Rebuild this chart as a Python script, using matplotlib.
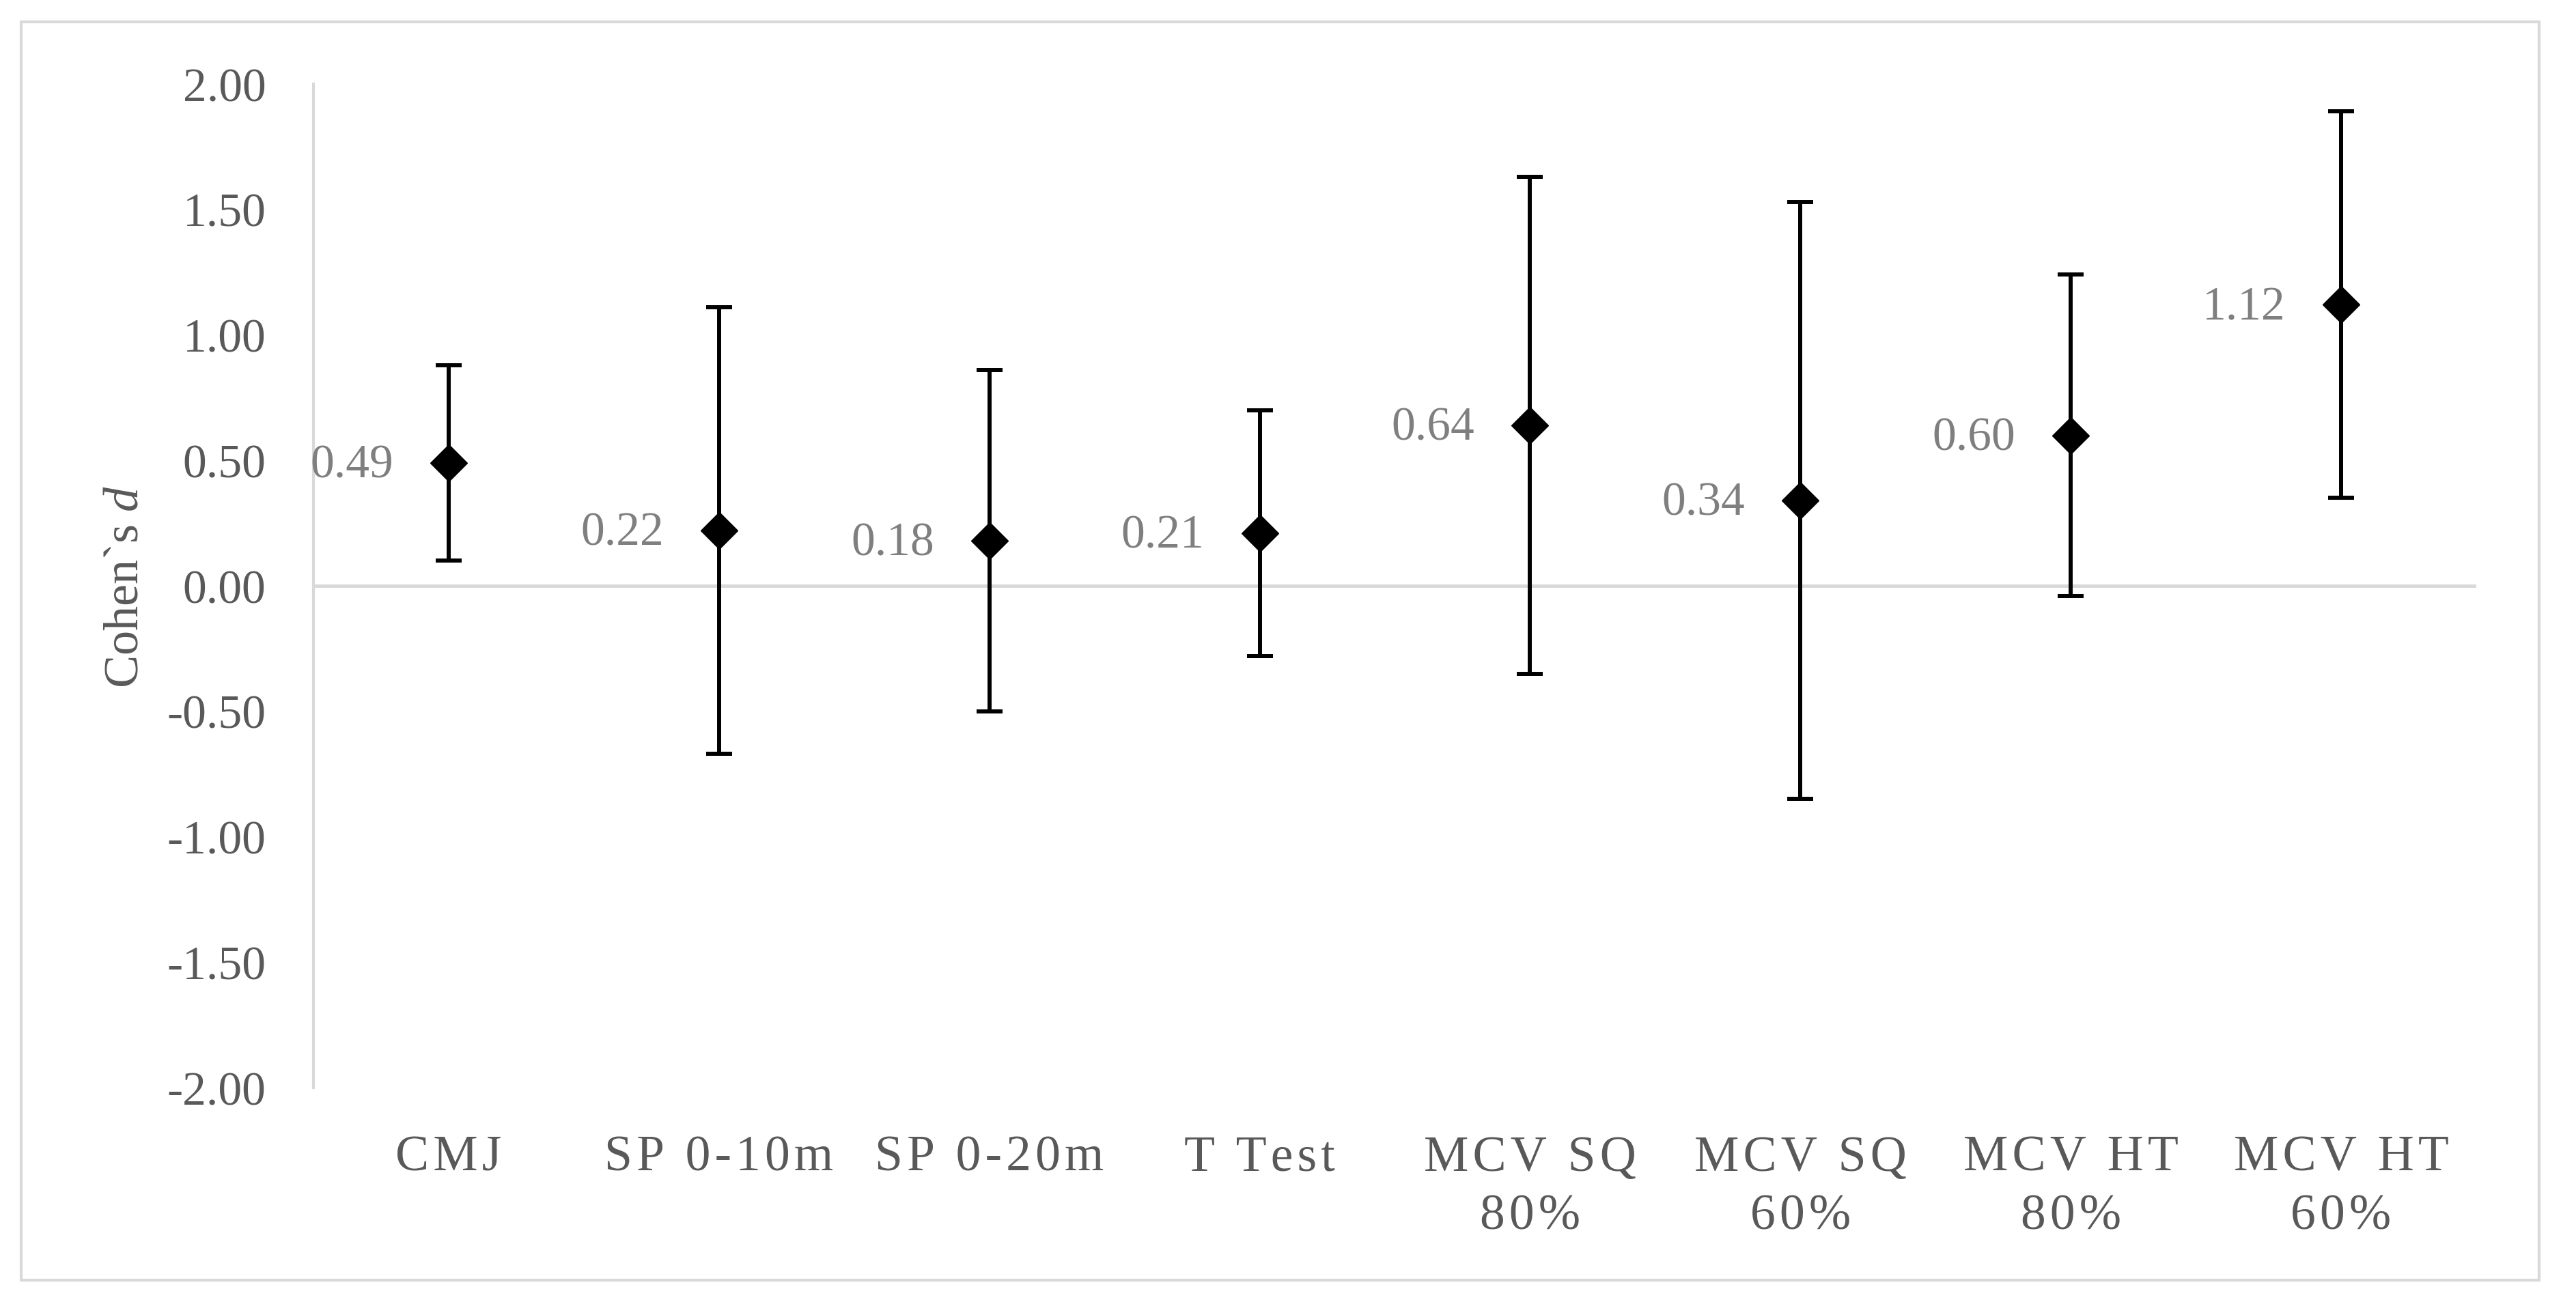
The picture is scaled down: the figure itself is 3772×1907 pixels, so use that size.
import matplotlib
matplotlib.use("Agg")
import matplotlib.pyplot as plt
import numpy as np
from matplotlib.patches import Rectangle

categories = ["CMJ", "SP 0-10m", "SP 0-20m", "T Test",
              "MCV SQ\n80%", "MCV SQ\n60%", "MCV HT\n80%", "MCV HT\n60%"]
d_values = [0.49, 0.22, 0.18, 0.21, 0.64, 0.34, 0.60, 1.12]
ci_low = [0.10, -0.67, -0.50, -0.28, -0.35, -0.85, -0.04, 0.35]
ci_high = [0.88, 1.11, 0.86, 0.70, 1.63, 1.53, 1.24, 1.89]
y_ticks = [-2.0, -1.5, -1.0, -0.5, 0.0, 0.5, 1.0, 1.5, 2.0]

plt.rcParams['font.family'] = ['Liberation Serif', 'DejaVu Serif']
plt.rcParams['mathtext.fontset'] = 'custom'
plt.rcParams['mathtext.rm'] = 'Liberation Serif'
plt.rcParams['mathtext.it'] = 'Liberation Serif:italic'

W, H = 3773, 1908
fig = plt.figure(figsize=(W / 100, H / 100), dpi=100)
ax = fig.add_axes([459 / W, 1 - 1594 / H, (3626 - 459) / W, (1594 - 124) / H])

x = np.arange(len(categories))
vals = np.array(d_values)
yerr = [vals - np.array(ci_low), np.array(ci_high) - vals]
ax.errorbar(x, vals, yerr=yerr, fmt='D', color='black', ms=27.5,
            elinewidth=4.3, capsize=13.5, capthick=4.3, zorder=3)

for xi, v in zip(x, d_values):
    ax.annotate(f"{v:.2f}", (xi, v), xytext=(-81, -4), textcoords='offset pixels',
                ha='right', va='center', fontsize=50, color='#7f7f7f')

ax.set_xlim(-0.5, len(categories) - 0.5)
ax.set_ylim(-2, 2)
ax.axhline(0, color='#d9d9d9', lw=3.5, zorder=1)
for s in ['top', 'right', 'bottom']:
    ax.spines[s].set_visible(False)
ax.spines['left'].set_color('#d9d9d9')
ax.spines['left'].set_linewidth(3)

# letter spacing like the original labels
spaced = ['\u200a'.join(c) for c in categories]
spaced = [s.replace('\u200a\n\u200a', '\n') for s in spaced]
ax.set_xticks(x)
ax.set_xticklabels(spaced, fontsize=53, color='#595959', linespacing=1.35)
ax.set_yticks(y_ticks)
ax.set_yticklabels([f"{t:.2f}" for t in y_ticks], fontsize=50, color='#595959')
ax.tick_params(length=0)
ax.tick_params(axis='y', pad=50)
ax.tick_params(axis='x', pad=50)
ax.set_ylabel("Cohen`s $\\mathit{d}$", fontsize=52, color='#595959', labelpad=20)

fig.add_artist(Rectangle((31 / W, 1 - 1876 / H), (3718 - 31) / W, (1876 - 33) / H,
                         transform=fig.transFigure, fill=False, ec='#d9d9d9', lw=3))

fig.savefig("out.png", dpi=100)
